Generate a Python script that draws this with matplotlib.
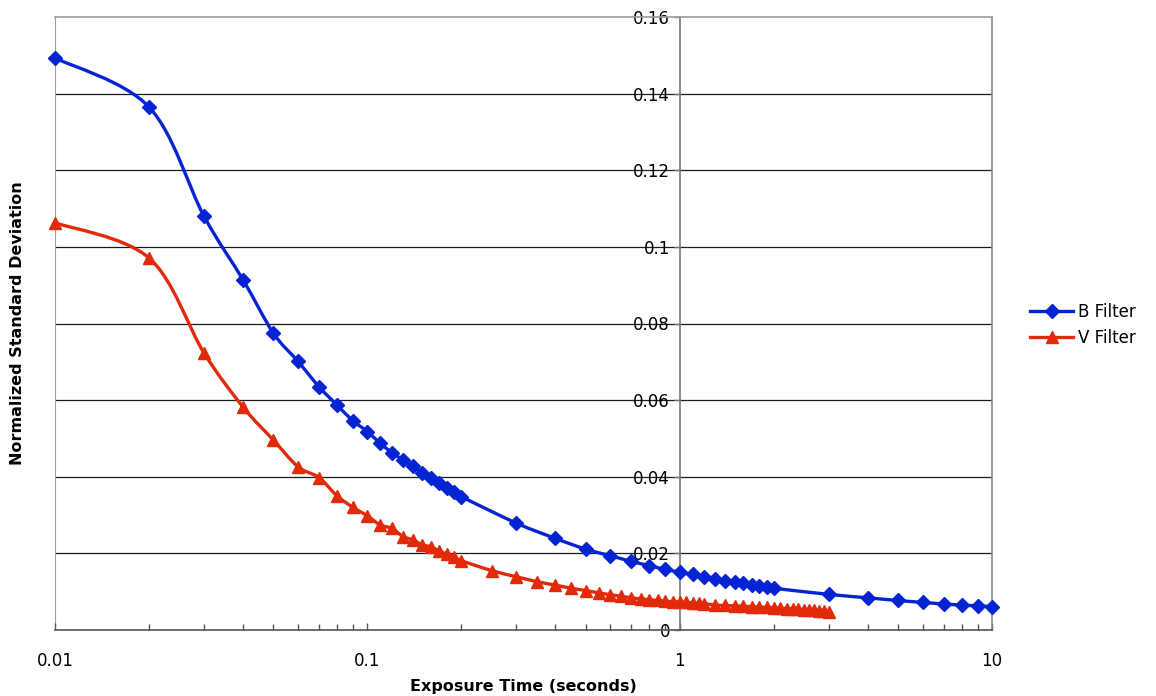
import numpy as np
import matplotlib.pyplot as plt
from matplotlib.path import Path
from matplotlib.patches import PathPatch
from matplotlib.lines import Line2D

# exposure times (s) and normalized std dev
b_time = [0.01, 0.02, 0.03, 0.04, 0.05, 0.06, 0.07, 0.08, 0.09, 0.1,
          0.11, 0.12, 0.13, 0.14, 0.15, 0.16, 0.17, 0.18, 0.19, 0.2,
          0.3, 0.4, 0.5, 0.6, 0.7, 0.8, 0.9, 1.0,
          1.1, 1.2, 1.3, 1.4, 1.5, 1.6, 1.7, 1.8, 1.9, 2.0,
          3, 4, 5, 6, 7, 8, 9, 10]
b_std = [0.1493, 0.1365, 0.1080, 0.0914, 0.0775, 0.0701, 0.0635, 0.0587, 0.0546, 0.0518,
         0.0487, 0.0463, 0.0444, 0.0427, 0.0411, 0.0397, 0.0384, 0.0371, 0.0359, 0.0348,
         0.0279, 0.0239, 0.0211, 0.0194, 0.0179, 0.0168, 0.0158, 0.0151,
         0.0145, 0.0138, 0.0133, 0.0129, 0.0125, 0.0122, 0.0118, 0.0115, 0.0112, 0.0109,
         0.0093, 0.0084, 0.0077, 0.0072, 0.0068, 0.0065, 0.0063, 0.0061]

v_time = [0.01, 0.02, 0.03, 0.04, 0.05, 0.06, 0.07, 0.08, 0.09, 0.1,
          0.11, 0.12, 0.13, 0.14, 0.15, 0.16, 0.17, 0.18, 0.19, 0.2,
          0.25, 0.3, 0.35, 0.4, 0.45, 0.5, 0.55, 0.6, 0.65, 0.7,
          0.75, 0.8, 0.85, 0.9, 0.95, 1.0, 1.05, 1.1, 1.15, 1.2,
          1.3, 1.4, 1.5, 1.6, 1.7, 1.8, 1.9, 2.0,
          2.1, 2.2, 2.3, 2.4, 2.5, 2.6, 2.7, 2.8, 2.9, 3.0]
v_std = [0.1063, 0.0971, 0.0723, 0.0582, 0.0496, 0.0426, 0.0398, 0.0350, 0.0320, 0.0298,
         0.0274, 0.0265, 0.0244, 0.0235, 0.0222, 0.0217, 0.0206, 0.0198, 0.0191, 0.0181,
         0.0155, 0.0139, 0.0126, 0.0117, 0.0109, 0.0103, 0.0097, 0.0092, 0.0088, 0.0084,
         0.0081, 0.0079, 0.0077, 0.0075, 0.0074, 0.0073, 0.0072, 0.0071, 0.0070, 0.0069,
         0.0065, 0.0064, 0.0063, 0.0062, 0.0061, 0.0060, 0.0059, 0.0058,
         0.0057, 0.0056, 0.0055, 0.0054, 0.0053, 0.0052, 0.0051, 0.0050, 0.0049, 0.0048]

x_ticks = [0.01, 0.1, 1, 10]
x_tick_labels = ["0.01", "0.1", "1", "10"]
y_ticks = [0, 0.02, 0.04, 0.06, 0.08, 0.1, 0.12, 0.14, 0.16]
y_tick_labels = ["0", "0.02", "0.04", "0.06", "0.08", "0.1", "0.12", "0.14", "0.16"]

BLUE = "#0424d4"
RED = "#e02a0a"


def smooth_path(xs, ys):
    """Bezier path through the points, smoothed in log-x space like Excel does."""
    lx = np.log10(xs)
    ys = np.asarray(ys, float)
    n = len(lx)
    verts = [(xs[0], ys[0])]
    codes = [Path.MOVETO]
    for i in range(n - 1):
        i0 = max(i - 1, 0)
        i3 = min(i + 2, n - 1)
        c1 = (lx[i] + (lx[i + 1] - lx[i0]) / 6, ys[i] + (ys[i + 1] - ys[i0]) / 6)
        c2 = (lx[i + 1] - (lx[i3] - lx[i]) / 6, ys[i + 1] - (ys[i3] - ys[i]) / 6)
        verts += [(10 ** c1[0], c1[1]), (10 ** c2[0], c2[1]), (xs[i + 1], ys[i + 1])]
        codes += [Path.CURVE4] * 3
    return Path(verts, codes)


fig = plt.figure(figsize=(11.56, 6.96), dpi=100)
ax = fig.add_axes([55 / 1156, 1 - 630 / 696, (992 - 55) / 1156, (630 - 17) / 696])
ax.set_xscale("log")
ax.set_xlim(0.01, 10)
ax.set_ylim(0, 0.16)

for yv in y_ticks[1:-1]:
    ax.axhline(yv, color="#1a1a1a", lw=0.9, zorder=1)
ax.axvline(0.01, color="#999999", lw=1.5, zorder=1)

for xs, ys, col, mk, ms in [(b_time, b_std, BLUE, "D", 7), (v_time, v_std, RED, "^", 8)]:
    ax.add_patch(PathPatch(smooth_path(xs, ys), fill=False, edgecolor=col, lw=2.4,
                           zorder=3, capstyle="round", joinstyle="round"))
    ax.plot(xs, ys, ls="none", marker=mk, ms=ms, color=col, mec=col, zorder=4,
            clip_on=False)

# y axis sits at x = 1
ax.spines["left"].set_position(("data", 1))
ax.spines["left"].set_color("#777777")
ax.spines["top"].set_color("#999999")
ax.spines["right"].set_color("#888888")
ax.spines["bottom"].set_color("#555555")
for s in ax.spines.values():
    s.set_linewidth(1.2)

ax.set_yticks(y_ticks)
ax.set_yticklabels(y_tick_labels)
ax.tick_params(axis="y", direction="out", length=4, width=1, color="#777777",
               labelsize=12, pad=3)
ax.set_xticks(x_ticks)
ax.set_xticklabels(x_tick_labels)
ax.tick_params(axis="x", which="major", direction="in", length=5, width=1,
               color="#555555", labelsize=12, pad=16)
ax.tick_params(axis="x", which="minor", direction="in", length=4, width=1,
               color="#555555")
ax.xaxis.set_minor_formatter(plt.NullFormatter())

fig.text(523 / 1156, 1 - 686 / 696, "Exposure Time (seconds)", ha="center",
         va="center", fontsize=11.5, fontweight="bold")
fig.text(18 / 1156, 1 - 323 / 696, "Normalized Standard Deviation", ha="center",
         va="center", rotation=90, fontsize=11.5, fontweight="bold")

handles = [Line2D([], [], color=BLUE, lw=2.4, marker="D", ms=7),
           Line2D([], [], color=RED, lw=2.4, marker="^", ms=8)]
fig.legend(handles, ["B Filter", "V Filter"], loc="center left",
           bbox_to_anchor=(1030 / 1156, 1 - 325 / 696), frameon=False,
           fontsize=12, handlelength=2.6, handletextpad=0.3, labelspacing=0.45,
           borderpad=0, borderaxespad=0)

fig.savefig("out.png", dpi=100)
